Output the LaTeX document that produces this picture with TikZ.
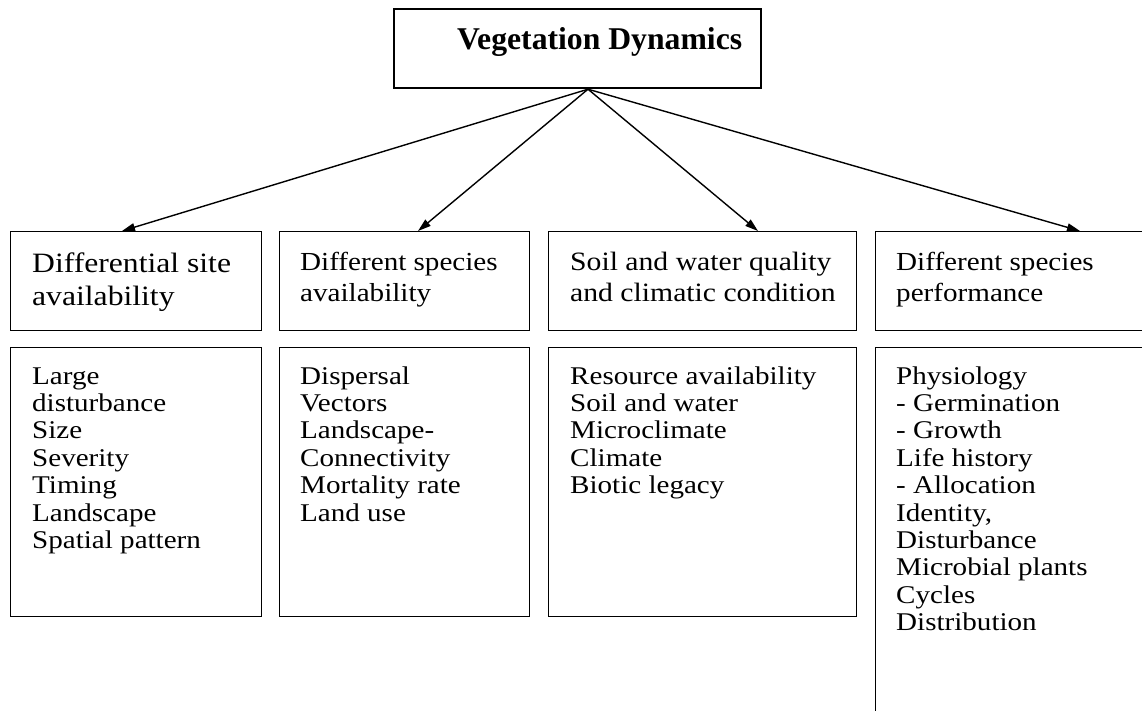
\documentclass[tikz,border=0pt]{standalone}
\usepackage{fontspec}
\setmainfont{Liberation Serif}
\usepackage{graphicx}
\usetikzlibrary{arrows.meta,calc}
\newcommand\textlines[4]{\fontsize{#1}{#2}\selectfont\lineskiplimit=-100pt\relax\scalebox{#3}[1]{\vtop{\halign{##\hfil\cr#4\crcr}}}}
\begin{document}
\begin{tikzpicture}[x=1pt,y=-1pt,
  box/.style={draw, line width=1.3pt, inner sep=0pt, anchor=north west},
  titlebox/.style={draw, line width=2.2pt, inner sep=0pt, anchor=north west, minimum width=367pt, minimum height=79pt},
  txt/.style={inner sep=0pt, anchor=base west},
  arr/.style={-{Triangle[length=13pt,width=8pt]}, line width=1.4pt}]
\useasboundingbox (0,0) rectangle (1142,711);
\clip (0,0) rectangle (1142,711);
% title
\node[titlebox] (title) at (393,8) {};
\node[txt] (tt) at (457,50) {\fontsize{31.7}{38}\selectfont\bfseries Vegetation Dynamics};
% row 2 boxes
\node[box, minimum width=251pt, minimum height=99pt] (b1) at (10,231) {};
\node[box, minimum width=250pt, minimum height=99pt] (b2) at (279,231) {};
\node[box, minimum width=308pt, minimum height=99pt] (b3) at (548,231) {};
\node[box, minimum width=300pt, minimum height=99pt] (b4) at (875,231) {};
% row 3 boxes
\node[box, minimum width=251pt, minimum height=269pt] (c1) at (10,347) {};
\node[box, minimum width=250pt, minimum height=269pt] (c2) at (279,347) {};
\node[box, minimum width=308pt, minimum height=269pt] (c3) at (548,347) {};
\node[box, minimum width=300pt, minimum height=400pt] (c4) at (875,347) {};
% arrows
\coordinate (src) at ($(title.south west)+(195,0)$);
\coordinate (t1) at ($(b1.north west)+(112,0)$);
\coordinate (t2) at ($(b2.north west)+(139,0)$);
\coordinate (t3) at ($(b3.north west)+(210,0)$);
\coordinate (t4) at ($(b4.north west)+(205,0)$);
\draw[arr] (src) -- (t1);
\draw[arr] (src) -- (t2);
\draw[arr] (src) -- (t3);
\draw[arr] (src) -- (t4);
% row 2 text
\node[txt] (h1) at (32,272) {\textlines{28}{33}{1.13}{Differential site\cr availability}};
\node[txt] (h2) at (300,270) {\textlines{26}{31}{1.12}{Different species\cr availability}};
\node[txt] (h3) at (570,270) {\textlines{26.5}{31}{1.12}{Soil and water quality\cr and climatic condition}};
\node[txt] (h4) at (896,270) {\textlines{26}{31}{1.12}{Different species\cr performance}};
% row 3 text
\node[txt] (l1) at (32,384) {\textlines{25.5}{27.4}{1.14}{Large\cr disturbance\cr Size\cr Severity\cr Timing\cr Landscape\cr Spatial pattern}};
\node[txt] (l2) at (300,384) {\textlines{25.5}{27.4}{1.14}{Dispersal\cr Vectors\cr Landscape-\cr Connectivity\cr Mortality rate\cr Land use}};
\node[txt] (l3) at (570,384) {\textlines{25.5}{27.4}{1.14}{Resource availability\cr Soil and water\cr Microclimate\cr Climate\cr Biotic legacy}};
\node[txt] (l4) at (896,384) {\textlines{25.5}{27.4}{1.14}{Physiology\cr - Germination\cr - Growth\cr Life history\cr - Allocation\cr Identity,\cr Disturbance\cr Microbial plants\cr Cycles\cr Distribution}};
\end{tikzpicture}
\end{document}
